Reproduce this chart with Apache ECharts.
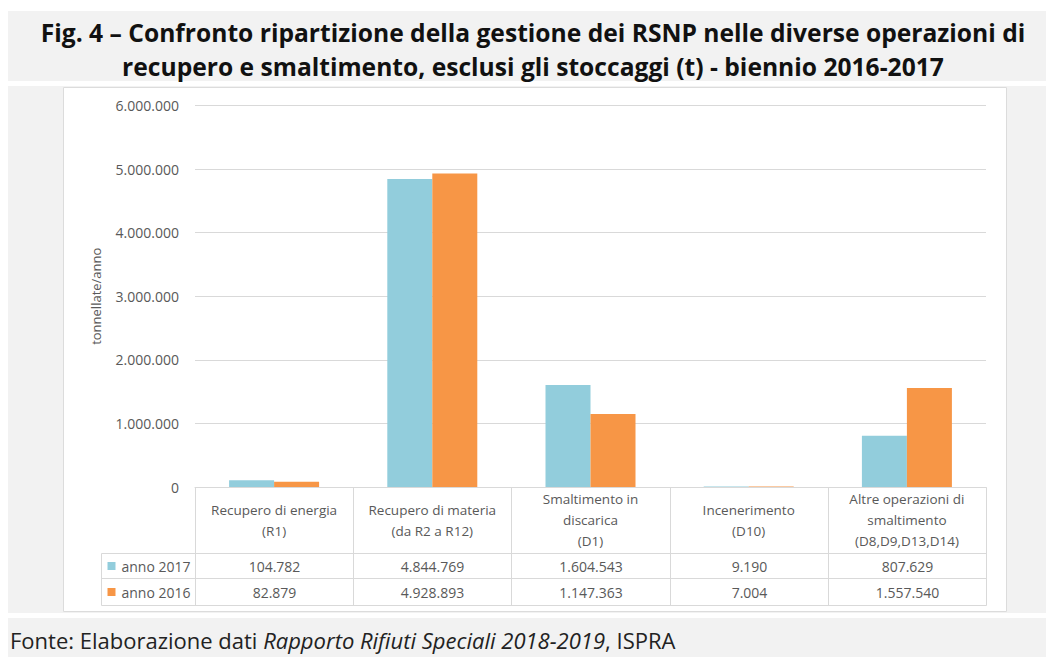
<!DOCTYPE html>
<html>
<head>
<meta charset="utf-8">
<script src="https://cdn.jsdelivr.net/npm/echarts@6/dist/echarts.min.js"></script>
<style>
  html, body { margin: 0; padding: 0; background: #ffffff; }
  #chart { width: 1046px; height: 657px; }
</style>
</head>
<body>
<div id="chart"></div>
<script>
// Categories (multi-line labels shown in the table header row)
const categories = [
  'Recupero di energia\n(R1)',
  'Recupero di materia\n(da R2 a R12)',
  'Smaltimento in\ndiscarica\n(D1)',
  'Incenerimento\n(D10)',
  'Altre operazioni di\nsmaltimento\n(D8,D9,D13,D14)'
];
const seriesNames = ['anno 2017', 'anno 2016'];
const values2017 = [104782, 4844769, 1604543, 9190, 807629];
const values2016 = [82879, 4928893, 1147363, 7004, 1557540];
const yAxisMax = 6000000;
const yAxisStep = 1000000;
const yAxisName = 'tonnellate/anno';
const titleLines = [
  'Fig. 4 \u2013 Confronto ripartizione della gestione dei RSNP nelle diverse operazioni di',
  'recupero e smaltimento, esclusi gli stoccaggi (t) - biennio 2016-2017'
];
const sourcePrefix = 'Fonte: Elaborazione dati ';
const sourceItalic = 'Rapporto Rifiuti Speciali 2018-2019';
const sourceSuffix = ', ISPRA';

const colors = ['#92CDDC', '#F79646'];
const gridLine = '#d9d9d9';
const textGrey = '#595959';
const FONT = '"Open Sans", "Noto Sans", sans-serif';

// Italian thousands separator
function fmt(n) {
  return String(n).replace(/\B(?=(\d{3})+(?!\d))/g, '.');
}

const chart = echarts.init(document.getElementById('chart'), null, { renderer: 'svg' });

chart.setOption({
  backgroundColor: '#ffffff',
  animation: false,
  textStyle: { fontFamily: FONT },
  grid: { left: 195, right: 60, top: 105.5, bottom: 170 },
  xAxis: {
    type: 'category',
    data: categories,
    axisLine: { show: true, lineStyle: { color: gridLine, width: 1 } },
    axisTick: { show: false },
    axisLabel: {
      interval: 0,
      color: textGrey,
      fontSize: 13.5,
      lineHeight: 21,
      verticalAlign: 'middle',
      margin: 33,
      fontFamily: FONT
    }
  },
  yAxis: {
    type: 'value',
    min: 0,
    max: yAxisMax,
    interval: yAxisStep,
    name: yAxisName,
    nameLocation: 'middle',
    nameGap: 93,
    nameTextStyle: { color: textGrey, fontSize: 13, fontFamily: FONT },
    axisLine: { show: false },
    axisTick: { show: false },
    axisLabel: { color: textGrey, fontSize: 14, margin: 16, formatter: fmt, fontFamily: FONT },
    splitLine: { lineStyle: { color: gridLine, width: 1 } }
  },
  series: [
    { name: seriesNames[0], type: 'bar', data: values2017, barWidth: 45, barGap: '0%',
      itemStyle: { color: colors[0] } },
    { name: seriesNames[1], type: 'bar', data: values2016, barWidth: 45, barGap: '0%',
      itemStyle: { color: colors[1] } }
  ]
});

// Panels, title, data table and source note, placed from the axis scales
function drawExtras() {
  const c0 = chart.convertToPixel({ xAxisIndex: 0 }, 0);
  const c1 = chart.convertToPixel({ xAxisIndex: 0 }, 1);
  const step = c1 - c0;
  const edges = [];
  for (let k = 0; k <= categories.length; k++) edges.push(Math.round(c0 - step / 2 + k * step) + 0.5);
  const yBase = Math.round(chart.convertToPixel({ yAxisIndex: 0 }, 0)) + 0.5;
  const headerBottom = yBase + 66;
  const row1Bottom = yBase + 91;
  const row2Bottom = yBase + 118;
  const legendLeft = edges[0] - 94;
  const right = edges[edges.length - 1];

  const els = [];
  // grey panels
  els.push({ type: 'rect', z: -20, silent: true, shape: { x: 8, y: 11, width: 1038, height: 70 }, style: { fill: '#f2f2f2' } });
  els.push({ type: 'rect', z: -20, silent: true, shape: { x: 8, y: 86, width: 1038, height: 527 }, style: { fill: '#f2f2f2' } });
  els.push({ type: 'rect', z: -19, silent: true, shape: { x: 63.5, y: 87.5, width: 943, height: 524 }, style: { fill: '#ffffff', stroke: '#dcdcdc', lineWidth: 1 } });
  els.push({ type: 'rect', z: -20, silent: true, shape: { x: 8, y: 618, width: 1038, height: 39 }, style: { fill: '#f2f2f2' } });

  // title
  titleLines.forEach(function (t, i) {
    els.push({ type: 'text', z: 10, x: 533, y: 32 + i * 34,
      style: { text: t, fill: '#111111', font: 'bold 25px ' + FONT, textAlign: 'center', textVerticalAlign: 'middle' },
      scaleX: 0.985, originX: 0, originY: 0 });
  });

  // source note
  els.push({ type: 'text', z: 10, x: 10, y: 640,
    style: {
      text: sourcePrefix + '{i|' + sourceItalic + '}' + sourceSuffix,
      fill: '#222222', fontSize: 22, fontFamily: FONT, verticalAlign: 'middle', align: 'left',
      rich: { i: { fontStyle: 'italic', fontSize: 22, fontFamily: FONT, fill: '#222222' } }
    },
    scaleX: 1, originX: 0, originY: 0 });

  const line = function (x1, y1, x2, y2) {
    els.push({ type: 'line', z: 5, silent: true, shape: { x1: x1, y1: y1, x2: x2, y2: y2 }, style: { stroke: gridLine, lineWidth: 1 } });
  };
  // horizontal rules
  line(edges[0], yBase, right, yBase);
  line(legendLeft, headerBottom, right, headerBottom);
  line(legendLeft, row1Bottom, right, row1Bottom);
  line(legendLeft, row2Bottom, right, row2Bottom);
  // vertical rules
  line(legendLeft, headerBottom, legendLeft, row2Bottom);
  edges.forEach(function (x) { line(x, yBase, x, row2Bottom); });

  const rows = [
    { name: seriesNames[0], color: colors[0], vals: values2017, y: (headerBottom + row1Bottom) / 2 },
    { name: seriesNames[1], color: colors[1], vals: values2016, y: (row1Bottom + row2Bottom) / 2 }
  ];
  rows.forEach(function (r) {
    els.push({ type: 'rect', z: 6, silent: true, shape: { x: legendLeft + 6, y: r.y - 4, width: 8, height: 8 }, style: { fill: r.color } });
    els.push({ type: 'text', z: 6, x: legendLeft + 20, y: r.y,
      style: { text: r.name, fill: textGrey, fontSize: 14, fontFamily: FONT, align: 'left', verticalAlign: 'middle' } });
    r.vals.forEach(function (v, i) {
      els.push({ type: 'text', z: 6, x: (edges[i] + edges[i + 1]) / 2, y: r.y,
        style: { text: fmt(v), fill: textGrey, fontSize: 14, fontFamily: FONT, align: 'center', verticalAlign: 'middle' } });
    });
  });

  chart.setOption({ graphic: { elements: els } });
}
drawExtras();
</script>
</body>
</html>
